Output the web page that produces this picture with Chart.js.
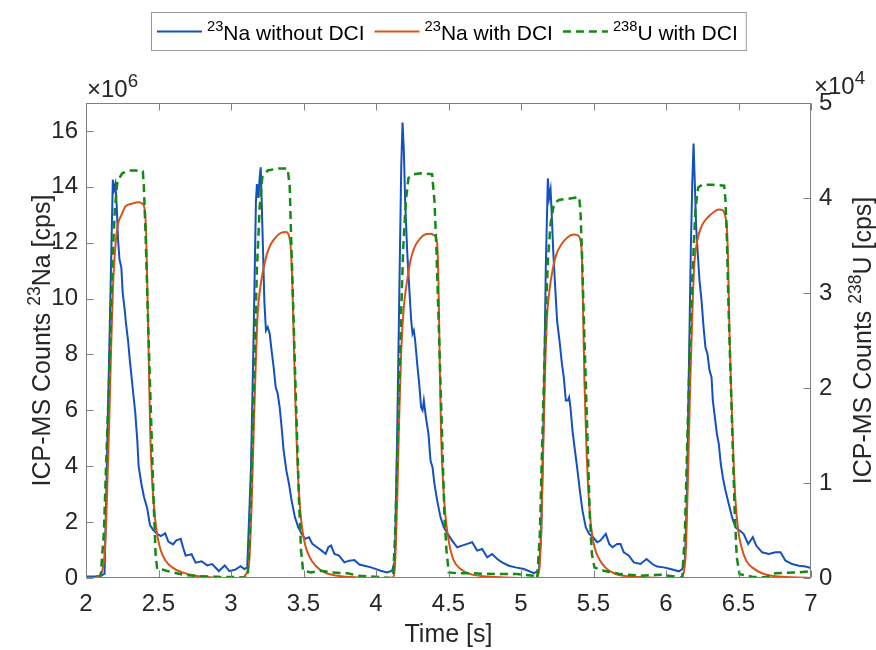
<!DOCTYPE html>
<html>
<head>
<meta charset="utf-8">
<script src="https://cdn.jsdelivr.net/npm/chart.js@4.4.1/dist/chart.umd.min.js"></script>
<style>
  html, body { margin: 0; background: #fff; }
  #wrap { position: relative; width: 876px; height: 650px; }
</style>
</head>
<body>
<div id="wrap"><canvas id="chart"></canvas></div>
<script>
// values are in axis units: Na counts x10^6, U counts x10^4
const timeTicks = [2, 2.5, 3, 3.5, 4, 4.5, 5, 5.5, 6, 6.5, 7];
const naTicks = [0, 2, 4, 6, 8, 10, 12, 14, 16];
const uTicks = [0, 1, 2, 3, 4, 5];

// 23Na without DCI
const naNoDciTime = [
  2.00, 2.06, 2.10, 2.128, 2.185, 2.194, 2.203, 2.212, 2.221, 2.231, 2.244, 2.253, 2.267, 2.276, 2.290,
  2.304, 2.322, 2.340, 2.354, 2.363, 2.381, 2.400, 2.422, 2.441, 2.459, 2.486, 2.516, 2.546, 2.568, 2.600,
  2.623, 2.653, 2.669, 2.687, 2.728, 2.756, 2.797, 2.836, 2.870, 2.916, 2.957, 2.989, 3.030, 3.066, 3.092, 3.112,
  3.138, 3.156, 3.172, 3.179, 3.189, 3.198, 3.205, 3.211, 3.221, 3.230, 3.241, 3.253, 3.267, 3.280, 3.294,
  3.308, 3.322, 3.336, 3.349, 3.363, 3.382, 3.400, 3.418, 3.441, 3.464, 3.487, 3.510, 3.538, 3.561, 3.593,
  3.625, 3.653, 3.671, 3.690, 3.713, 3.745, 3.782, 3.816, 3.851, 3.885, 3.920, 3.966, 4.011, 4.031, 4.077, 4.111, 4.130,
  4.146, 4.160, 4.174, 4.183, 4.192, 4.201, 4.215, 4.229, 4.243, 4.252, 4.261, 4.270, 4.284, 4.298, 4.311,
  4.321, 4.330, 4.344, 4.362, 4.376, 4.390, 4.403, 4.422, 4.445, 4.468, 4.495, 4.525, 4.560, 4.594, 4.629,
  4.663, 4.698, 4.732, 4.767, 4.801, 4.836, 4.870, 4.916, 4.962, 5.020, 5.089, 5.123, 5.139,
  5.158, 5.171, 5.185, 5.194, 5.204, 5.213, 5.222, 5.236, 5.249, 5.268, 5.282, 5.295, 5.309, 5.323, 5.332,
  5.341, 5.355, 5.369, 5.387, 5.406, 5.424, 5.447, 5.470, 5.498, 5.525, 5.548, 5.585, 5.608, 5.631, 5.663,
  5.686, 5.709, 5.744, 5.778, 5.824, 5.866, 5.905, 5.939, 5.985, 6.031, 6.089, 6.112, 6.130, 6.144,
  6.158, 6.171, 6.181, 6.190, 6.199, 6.208, 6.222, 6.231, 6.245, 6.259, 6.272, 6.286, 6.300, 6.314, 6.323,
  6.337, 6.351, 6.364, 6.378, 6.392, 6.410, 6.433, 6.456, 6.479, 6.507, 6.535, 6.567, 6.599, 6.622, 6.663,
  6.709, 6.755, 6.790, 6.824, 6.870, 6.916, 6.962, 7.00
];
const naNoDciCounts = [
  0.05, 0.05, 0.08, 0.15, 14.26, 13.9, 14.1, 13.3, 12.1, 11.4, 11.1, 10.2, 9.6, 9.1, 8.5,
  7.7, 6.8, 5.9, 4.9, 4.0, 3.4, 2.9, 2.5, 1.9, 1.75, 1.6, 1.5, 1.6, 1.3, 1.2,
  1.35, 1.4, 1.1, 0.8, 0.85, 0.55, 0.6, 0.45, 0.5, 0.25, 0.45, 0.25, 0.3, 0.42, 0.32, 0.38,
  4.0, 8.7, 13.5, 14.1, 13.6, 14.35, 14.7, 13.6, 11.7, 9.9, 8.86, 8.98, 8.74, 8.14, 7.55,
  6.83, 6.6, 6.1, 5.4, 4.56, 3.84, 3.37, 2.77, 2.17, 1.81, 1.58, 1.4, 1.46, 1.22, 1.1,
  0.98, 0.86, 1.1, 1.16, 0.86, 0.8, 0.56, 0.62, 0.64, 0.48, 0.44, 0.38, 0.3, 0.26, 0.2, 0.26, 0.62,
  5.16, 9.93, 14.7, 16.3, 15.3, 13.5, 11.7, 10.4, 9.2, 8.74, 8.86, 8.5, 7.67, 6.95, 6.11,
  6.0, 6.35, 5.76, 5.16, 4.2, 3.96, 3.37, 2.77, 2.17, 1.81, 1.58, 1.34, 1.1, 1.16, 1.22,
  1.28, 0.98, 1.04, 0.74, 0.86, 0.68, 0.56, 0.44, 0.38, 0.32, 0.17, 0.26, 1.58,
  6.35, 11.1, 14.3, 13.6, 13.9, 12.9, 11.72, 10.4, 9.2, 8.38, 7.67, 7.19, 6.35, 6.35, 6.47,
  6.11, 5.28, 4.68, 3.96, 3.13, 2.41, 1.81, 1.58, 1.46, 1.28, 1.34, 1.58, 1.22, 1.1, 1.22,
  1.22, 0.92, 0.8, 0.56, 0.5, 0.68, 0.5, 0.41, 0.38, 0.32, 0.24, 0.32, 0.62, 2.77,
  7.55, 11.72, 14.1, 15.55, 14.1, 12.56, 11.37, 10.65, 9.93, 8.98, 8.26, 8.02, 7.43, 7.19, 6.35,
  5.76, 5.16, 4.8, 4.08, 3.6, 3.13, 2.65, 2.17, 1.81, 1.7, 1.58, 1.22, 1.46, 1.16, 0.92,
  0.86, 0.92, 0.92, 0.62, 0.5, 0.44, 0.41, 0.36
];

// 23Na with DCI
const naDciTime = [
  2.00, 2.066, 2.089, 2.112, 2.130, 2.144, 2.158, 2.172, 2.186, 2.200, 2.218, 2.245, 2.273, 2.319, 2.365,
  2.388, 2.406, 2.415, 2.425, 2.434, 2.443, 2.457, 2.475, 2.494, 2.516, 2.549, 2.594, 2.663, 2.755, 2.870, 3.069,
  3.103, 3.126, 3.143, 3.156, 3.170, 3.184, 3.202, 3.221, 3.248, 3.276, 3.310, 3.345, 3.379, 3.402, 3.414,
  3.423, 3.432, 3.444, 3.455, 3.469, 3.487, 3.510, 3.543, 3.584, 3.644, 3.736, 3.874, 4.111,
  4.130, 4.146, 4.160, 4.174, 4.192, 4.215, 4.238, 4.266, 4.302, 4.341, 4.376, 4.403, 4.422, 4.431, 4.440,
  4.449, 4.463, 4.482, 4.505, 4.537, 4.583, 4.652, 4.767, 4.882, 5.100,
  5.123, 5.139, 5.153, 5.167, 5.181, 5.199, 5.217, 5.245, 5.282, 5.318, 5.364, 5.392, 5.410, 5.420, 5.429,
  5.438, 5.452, 5.466, 5.484, 5.507, 5.539, 5.581, 5.640, 5.732, 5.870, 6.100,
  6.123, 6.139, 6.153, 6.167, 6.181, 6.194, 6.208, 6.227, 6.254, 6.291, 6.330, 6.364, 6.392, 6.410, 6.420,
  6.429, 6.438, 6.452, 6.466, 6.479, 6.498, 6.521, 6.553, 6.594, 6.663, 6.755, 6.916, 7.00
];
const naDciCounts = [
  0, 0, 0.08, 0.26, 0.98, 2.8, 5.2, 8.0, 10.4, 11.7, 12.6, 13.0, 13.3, 13.4, 13.45,
  13.4, 13.15, 12.3, 9.9, 7.5, 5.2, 3.4, 2.2, 1.46, 0.98, 0.62, 0.38, 0.2, 0.08, 0.02, 0,
  0.14, 0.62, 2.77, 5.16, 7.55, 9.46, 10.4, 11.0, 11.6, 11.96, 12.2, 12.35, 12.38, 12.2, 11.7,
  10.5, 8.74, 6.35, 4.56, 3.0, 1.93, 1.22, 0.74, 0.44, 0.2, 0.08, 0.02, 0,
  0.38, 2.77, 5.76, 8.14, 9.7, 10.65, 11.37, 11.84, 12.14, 12.3, 12.32, 12.26, 11.96, 10.53, 7.55,
  5.16, 3.37, 2.05, 1.22, 0.62, 0.32, 0.14, 0.05, 0.02, 0,
  0.2, 1.58, 4.56, 7.55, 9.46, 10.4, 11.0, 11.6, 11.96, 12.18, 12.29, 12.26, 12.08, 11.49, 9.34,
  6.95, 4.56, 3.0, 1.81, 1.1, 0.68, 0.38, 0.17, 0.06, 0.02, 0,
  0.2, 1.22, 3.96, 6.95, 9.34, 11.13, 11.84, 12.32, 12.68, 12.92, 13.1, 13.19, 13.16, 12.92, 12.56,
  11.13, 8.74, 6.35, 4.2, 2.77, 1.7, 1.1, 0.62, 0.38, 0.17, 0.06, 0.02, 0
];

// 238U with DCI (right axis)
const uDciTime = [
  2.00, 2.100, 2.123, 2.146, 2.162, 2.180, 2.199, 2.217, 2.250, 2.296, 2.342, 2.392, 2.399, 2.411, 2.424,
  2.438, 2.452, 2.466, 2.480, 2.491, 2.525, 2.571, 2.686, 2.778, 2.916, 3.050, 3.115,
  3.129, 3.143, 3.161, 3.179, 3.198, 3.216, 3.253, 3.322, 3.391, 3.405, 3.414, 3.428, 3.441, 3.455, 3.469,
  3.483, 3.497, 3.552, 3.621, 3.690, 3.805, 3.874, 3.966, 4.118,
  4.132, 4.151, 4.169, 4.187, 4.206, 4.224, 4.261, 4.307, 4.387, 4.403, 4.417, 4.431, 4.445, 4.459, 4.472,
  4.486, 4.502, 4.560, 4.652, 4.813, 4.974, 5.089, 5.112,
  5.130, 5.148, 5.167, 5.185, 5.204, 5.227, 5.261, 5.318, 5.401, 5.410, 5.420, 5.433, 5.447, 5.461, 5.475,
  5.489, 5.507, 5.571, 5.686, 5.824, 5.962, 6.089, 6.112,
  6.130, 6.148, 6.167, 6.185, 6.203, 6.222, 6.249, 6.318, 6.401, 6.410, 6.420, 6.433, 6.447, 6.461, 6.475,
  6.488, 6.507, 6.594, 6.686, 6.755, 6.916, 7.00
];
const uDciCounts = [
  0, 0, 0.47, 1.53, 2.21, 3.26, 3.88, 4.18, 4.26, 4.29, 4.29, 4.28, 4.12, 3.62, 2.91,
  2.21, 1.53, 0.82, 0.25, 0.094, 0.09, 0.07, 0.03, 0.02, 0.012, 0.01, 0,
  0.46, 1.16, 2.22, 3.26, 3.91, 4.22, 4.29, 4.31, 4.31, 4.12, 3.62, 2.92, 2.22, 1.52, 0.81,
  0.29, 0.076, 0.059, 0.076, 0.059, 0.05, 0.024, 0.015, 0,
  0.46, 1.52, 2.57, 3.45, 3.97, 4.21, 4.25, 4.26, 4.25, 3.97, 3.45, 2.75, 2.04, 1.34, 0.64,
  0.29, 0.059, 0.05, 0.05, 0.041, 0.041, 0.024, 0,
  0.46, 1.52, 2.57, 3.34, 3.73, 3.94, 3.98, 3.99, 4.01, 3.87, 3.45, 2.75, 2.04, 1.34, 0.64,
  0.25, 0.11, 0.076, 0.041, 0.024, 0.035, 0.01, 0,
  0.46, 1.51, 2.58, 3.28, 3.88, 4.11, 4.14, 4.14, 4.13, 3.98, 3.56, 2.75, 2.05, 1.34, 0.64,
  0.22, 0.04, 0.014, 0.007, 0.05, 0.06, 0.07
];

const FAMILY = "'Liberation Sans', Arial, Helvetica, sans-serif";
const TEXT = '#262626';
const TICK_SIZE = 24, LABEL_SIZE = 25, LEGEND_SIZE = 21;

const pairs = (xs, ys) => xs.map((x, i) => ({ x: x, y: ys[i] }));

// '^{23}Na' -> [{t:'23', sup:true}, {t:'Na'}]
function richParts(s) {
    const parts = [];
    const re = /\^\{([^}]*)\}/g;
    let last = 0, m;
    while ((m = re.exec(s))) {
        if (m.index > last) parts.push({ t: s.slice(last, m.index) });
        parts.push({ t: m[1], sup: true });
        last = re.lastIndex;
    }
    if (last < s.length) parts.push({ t: s.slice(last) });
    return parts;
}
function richWidth(ctx, s, size, ratio = 0.7) {
    let w = 0;
    richParts(s).forEach(p => {
        ctx.font = (p.sup ? size * ratio : size) + 'px ' + FAMILY;
        w += ctx.measureText(p.t).width;
    });
    return w;
}
function drawRich(ctx, s, x, y, size, ratio = 0.7) {
    ctx.textAlign = 'left';
    ctx.textBaseline = 'alphabetic';
    richParts(s).forEach(p => {
        const fs = p.sup ? size * ratio : size;
        ctx.font = fs + 'px ' + FAMILY;
        ctx.fillText(p.t, x, p.sup ? y - size * 0.42 : y);
        x += ctx.measureText(p.t).width;
    });
}

const matlabAxes = {
    id: 'matlabAxes',
    afterDatasetsDraw(chart) {
        const { ctx, chartArea: a, scales } = chart;
        const L = Math.round(a.left) + 0.5, R = Math.round(a.right) - 0.5;
        const T = Math.round(a.top) + 0.5, B = Math.round(a.bottom) - 0.5;
        const len = 7;
        ctx.save();
        ctx.strokeStyle = '#7f7f7f';
        ctx.lineWidth = 1;
        ctx.strokeRect(L, T, R - L, B - T);
        ctx.beginPath();
        scales.x.ticks.forEach(t => {
            const px = Math.round(scales.x.getPixelForValue(t.value)) + 0.5;
            ctx.moveTo(px, B); ctx.lineTo(px, B - len);
            ctx.moveTo(px, T); ctx.lineTo(px, T + len);
        });
        scales.y.ticks.forEach(t => {
            const py = Math.round(scales.y.getPixelForValue(t.value)) + 0.5;
            ctx.moveTo(L, py); ctx.lineTo(L + len, py);
        });
        scales.y2.ticks.forEach(t => {
            const py = Math.round(scales.y2.getPixelForValue(t.value)) + 0.5;
            ctx.moveTo(R, py); ctx.lineTo(R - len, py);
        });
        ctx.stroke();
        ctx.restore();
    },
    afterDraw(chart) {
        const { ctx, chartArea: a } = chart;
        const cx = (a.left + a.right) / 2, cy = (a.top + a.bottom) / 2;
        ctx.save();
        ctx.fillStyle = TEXT;

        // axis titles
        let s = 'Time [s]';
        drawRich(ctx, s, cx - richWidth(ctx, s, LABEL_SIZE) / 2, 642, LABEL_SIZE);

        s = 'ICP-MS Counts ^{23}Na [cps]';
        ctx.save();
        ctx.translate(50, cy);
        ctx.rotate(-Math.PI / 2);
        drawRich(ctx, s, -richWidth(ctx, s, LABEL_SIZE) / 2, 0, LABEL_SIZE);
        ctx.restore();

        s = 'ICP-MS Counts ^{238}U [cps]';
        ctx.save();
        ctx.translate(871, cy);
        ctx.rotate(-Math.PI / 2);
        drawRich(ctx, s, -richWidth(ctx, s, LABEL_SIZE) / 2, 0, LABEL_SIZE);
        ctx.restore();

        // exponent labels
        drawRich(ctx, '\u00d710^{6}', a.left + 1, 97, 24, 0.78);
        drawRich(ctx, '\u00d710^{4}', a.right + 3, 94, 24, 0.78);

        // legend
        const lineLen = 45, gap = 5, itemGap = 10, padL = 6, padR = 8;
        const items = chart.data.datasets;
        let w = padL + padR - itemGap;
        items.forEach(ds => { w += lineLen + gap + richWidth(ctx, ds.label, LEGEND_SIZE) + itemGap; });
        const top = 12, h = 38;
        let x = Math.round(cx - w / 2);
        ctx.fillStyle = '#fff';
        ctx.fillRect(x + 0.5, top + 0.5, w, h);
        ctx.strokeStyle = '#9a9a9a';
        ctx.lineWidth = 1;
        ctx.strokeRect(x + 0.5, top + 0.5, w, h);
        x += padL;
        const my = top + h / 2 + 0.5;
        items.forEach(ds => {
            ctx.save();
            ctx.strokeStyle = ds.borderColor;
            ctx.lineWidth = ds.borderWidth;
            ctx.setLineDash(ds.borderDash || []);
            ctx.beginPath();
            ctx.moveTo(x, my); ctx.lineTo(x + lineLen, my);
            ctx.stroke();
            ctx.restore();
            x += lineLen + gap;
            ctx.fillStyle = '#000';
            drawRich(ctx, ds.label, x, my + 8, LEGEND_SIZE);
            x += richWidth(ctx, ds.label, LEGEND_SIZE) + itemGap;
        });
        ctx.restore();
    }
};

const tickFont = { family: FAMILY, size: TICK_SIZE };

new Chart(document.getElementById('chart').getContext('2d'), {
    type: 'line',
    data: {
        datasets: [{
            label: '^{23}Na without DCI',
            data: pairs(naNoDciTime, naNoDciCounts),
            yAxisID: 'y',
            borderColor: '#1450c0',
            borderWidth: 2,
            pointRadius: 0,
            tension: 0,
            order: 2
        }, {
            label: '^{23}Na with DCI',
            data: pairs(naDciTime, naDciCounts),
            yAxisID: 'y',
            borderColor: '#d95319',
            borderWidth: 2,
            pointRadius: 0,
            cubicInterpolationMode: 'monotone',
            order: 1
        }, {
            label: '^{238}U with DCI',
            data: pairs(uDciTime, uDciCounts),
            yAxisID: 'y2',
            borderColor: '#138a13',
            borderWidth: 2.5,
            borderDash: [8, 5],
            pointRadius: 0,
            tension: 0,
            order: 0
        }]
    },
    options: {
        responsive: true,
        maintainAspectRatio: false,
        animation: false,
        layout: { padding: { top: 103 } },
        plugins: {
            legend: { display: false },
            tooltip: { enabled: false }
        },
        scales: {
            x: {
                type: 'linear',
                min: 2,
                max: 7,
                afterBuildTicks: s => { s.ticks = timeTicks.map(v => ({ value: v })); },
                ticks: { callback: v => String(v), color: TEXT, font: tickFont, padding: 12, maxRotation: 0, autoSkip: false },
                grid: { display: false, drawTicks: false },
                border: { display: false },
                afterFit: s => { s.height = 72; }
            },
            y: {
                position: 'left',
                min: 0,
                max: 17,
                afterBuildTicks: s => { s.ticks = naTicks.map(v => ({ value: v })); },
                ticks: { callback: v => String(v), color: TEXT, font: tickFont, padding: 8 },
                grid: { display: false, drawTicks: false },
                border: { display: false },
                afterFit: s => { s.width = 86; }
            },
            y2: {
                position: 'right',
                min: 0,
                max: 5,
                afterBuildTicks: s => { s.ticks = uTicks.map(v => ({ value: v })); },
                ticks: { callback: v => String(v), color: TEXT, font: tickFont, padding: 8 },
                grid: { display: false, drawTicks: false },
                border: { display: false },
                afterFit: s => { s.width = 65; }
            }
        }
    },
    plugins: [matlabAxes]
});
</script>
</body>
</html>
